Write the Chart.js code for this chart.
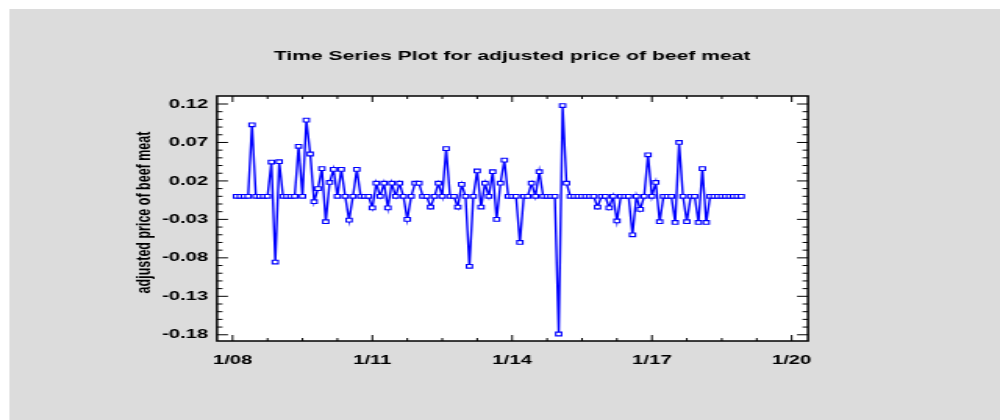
<!DOCTYPE html>
<html>
<head>
<meta charset="utf-8">
<script src="https://cdn.jsdelivr.net/npm/chart.js@4.4.0/dist/chart.umd.min.js"></script>
<style>
  html, body { margin: 0; padding: 0; background: #fff; }
  /* the original picture is a wide stretch of a narrower plot */
  #wrap { width: 640px; height: 420px; transform: scaleX(1.5625); transform-origin: 0 0; }
</style>
</head>
<body>
<div id="wrap"><canvas id="beefChart"></canvas></div>
<script>
// month index counted from 1/08, first value is Feb 2008
const startMonth = 1;
const beefValues = [
    0, 0, 0, 0, 0.093, 0, 0, 0, 0, 0.0445, -0.0855,
    0.045, 0, 0, 0, 0, 0.065, 0, 0.099, 0.055, -0.007, 0.010, 0.036,
    -0.033, 0.018, 0.035, 0, 0.035, 0, -0.031, 0, 0.035, 0, 0, 0,
    -0.015, 0.017, 0, 0.017, -0.015, 0.017, 0, 0.017, 0, -0.030, 0, 0.017,
    0.017, 0, 0, -0.014, 0, 0.017, 0, 0.062, 0, 0, -0.014, 0.0155,
    0, -0.091, 0, 0.033, -0.014, 0.017, 0, 0.032, -0.030, 0.017, 0.047, 0,
    0, 0, -0.060, 0, 0, 0.017, 0, 0.032, 0, 0, 0, 0,
    -0.179, 0.118, 0.017, 0, 0, 0, 0, 0, 0, 0, -0.014, 0,
    0, -0.015, 0, -0.032, 0, 0, 0, -0.050, 0, -0.017, 0, 0.054,
    0, 0.018, -0.033, 0, 0, 0, -0.034, 0.070, 0, -0.033, 0, 0,
    -0.034, 0.036, -0.034, 0, 0, 0, 0, 0, 0, 0, 0, 0
];
const xTickMonths = [0, 36, 72, 108, 144];
const xTickLabels = ['1/08', '1/11', '1/14', '1/17', '1/20'];
const yTicks = [-0.18, -0.13, -0.08, -0.03, 0.02, 0.07, 0.12];
const yTitle = 'adjusted price of beef meat';

Chart.defaults.font.family = "'Liberation Sans', Arial, sans-serif";
Chart.defaults.color = '#000';

const boldFont = { size: 13, weight: 'bold' };

// grey panel, white plot box, frame, inward ticks and the y title
const frameAndTicks = {
    id: 'frameAndTicks',
    beforeDraw(chart) {
        const ctx = chart.ctx, a = chart.chartArea;
        ctx.save();
        ctx.fillStyle = '#dcdcdc';
        ctx.fillRect(6, 9, chart.width - 6, chart.height - 9);
        ctx.fillStyle = '#ffffff';
        ctx.fillRect(a.left, a.top, a.right - a.left, a.bottom - a.top);
        ctx.restore();
    },
    afterDraw(chart) {
        const ctx = chart.ctx, a = chart.chartArea;
        const xs = chart.scales.x, ys = chart.scales.y;
        ctx.save();
        ctx.strokeStyle = '#000';
        ctx.lineWidth = 1;
        ctx.beginPath();
        for (let k = -18; k <= 13; k++) {
            const v = k / 100;
            const py = ys.getPixelForValue(v);
            if (py < a.top + 1 || py > a.bottom - 1) continue;
            const major = yTicks.some(t => Math.abs(t - v) < 1e-6);
            const len = major ? 7 : 3.5;
            ctx.moveTo(a.left, py); ctx.lineTo(a.left + len, py);
            ctx.moveTo(a.right, py); ctx.lineTo(a.right - len, py);
        }
        for (let m = 0; m <= 144; m += 9) {
            const px = xs.getPixelForValue(m);
            const len = xTickMonths.includes(m) ? 6 : 3;
            ctx.moveTo(px, a.bottom); ctx.lineTo(px, a.bottom - len);
            ctx.moveTo(px, a.top); ctx.lineTo(px, a.top + len);
        }
        ctx.stroke();
        ctx.lineWidth = 1.5;
        ctx.strokeRect(a.left, a.top, a.right - a.left, a.bottom - a.top);

        // axis title sits a little above the middle of the plot box
        ctx.translate(92.8, (a.top + a.bottom) / 2 - 6);
        ctx.rotate(-Math.PI / 2);
        ctx.fillStyle = '#000';
        ctx.font = "bold 12.5px 'Liberation Sans', Arial, sans-serif";
        ctx.textAlign = 'center';
        ctx.textBaseline = 'middle';
        ctx.fillText(yTitle, 0, 0);
        ctx.restore();
    }
};

const points = beefValues.map((v, i) => ({ x: startMonth + i, y: v }));

new Chart('beefChart', {
    type: 'line',
    data: {
        datasets: [{
            data: points,
            borderColor: '#0000ff',
            borderWidth: 1.4,
            pointStyle: 'rect',
            pointRadius: 2.6,
            pointBorderWidth: 1.1,
            pointBorderColor: '#0000ff',
            pointBackgroundColor: '#ffffff',
            tension: 0
        }]
    },
    options: {
        responsive: true,
        maintainAspectRatio: false,
        animation: false,
        layout: { padding: { left: 15.4, right: 0, top: 9, bottom: 0 } },
        plugins: {
            legend: { display: false },
            tooltip: { enabled: false },
            title: {
                display: true,
                text: 'Time Series Plot for adjusted price of beef meat',
                color: '#000',
                font: { size: 13.5, weight: 'bold' },
                padding: { top: 39, bottom: 31.8 }
            }
        },
        scales: {
            x: {
                type: 'linear',
                min: -4,
                max: 148.2,
                grid: { display: false, drawTicks: false },
                border: { display: false },
                afterBuildTicks: s => { s.ticks = xTickMonths.map(v => ({ value: v })); },
                afterFit: s => { s.height = 79; },
                ticks: {
                    callback: v => xTickLabels[xTickMonths.indexOf(v)],
                    font: boldFont,
                    padding: 12,
                    maxRotation: 0,
                    autoSkip: false
                }
            },
            y: {
                min: -0.1881,
                max: 0.1304,
                grid: { display: false, drawTicks: false },
                border: { display: false },
                afterBuildTicks: s => { s.ticks = yTicks.map(v => ({ value: v })); },
                afterFit: s => { s.width = 123.5; },
                ticks: {
                    callback: v => v.toFixed(2),
                    font: boldFont,
                    padding: 5.6
                }
            },
            spare: {
                position: 'right',
                grid: { display: false, drawTicks: false },
                border: { display: false },
                ticks: { display: false },
                afterFit: s => { s.width = 122.9; }
            }
        }
    },
    plugins: [frameAndTicks]
});
</script>
</body>
</html>
